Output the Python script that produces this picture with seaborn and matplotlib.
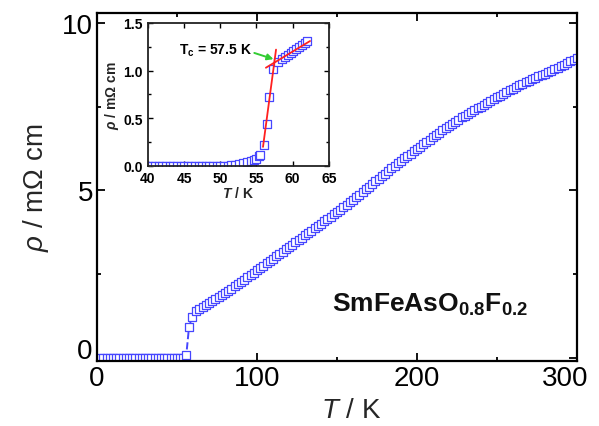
import matplotlib
matplotlib.use('Agg')
import matplotlib.pyplot as plt
import matplotlib.transforms as mtrans
from matplotlib.ticker import MultipleLocator, FixedLocator, FormatStrFormatter
import seaborn as sns
import pandas as pd

# ---------------- data ----------------
T_main = [2, 4, 6, 8, 10, 12, 14, 16, 18, 20, 22, 24, 26, 28, 30, 32, 34, 36, 38, 40,
          42, 44, 46, 48, 50, 52, 54, 55.8, 57.5, 59.4,
          62, 64, 66, 68, 70, 72, 74, 76, 78, 80, 82, 84, 86, 88, 90, 92, 94, 96, 98, 100,
          102, 104, 106, 108, 110, 112, 114, 116, 118, 120, 122, 124, 126, 128, 130,
          132, 134, 136, 138, 140, 142, 144, 146, 148, 150, 152, 154, 156, 158, 160,
          162, 164, 166, 168, 170, 172, 174, 176, 178, 180, 182, 184, 186, 188, 190,
          192, 194, 196, 198, 200, 202, 204, 206, 208, 210, 212, 214, 216, 218, 220,
          222, 224, 226, 228, 230, 232, 234, 236, 238, 240, 242, 244, 246, 248, 250,
          252, 254, 256, 258, 260, 262, 264, 266, 268, 270, 272, 274, 276, 278, 280,
          282, 284, 286, 288, 290, 292, 294, 296, 298, 300]
rho_main = [0.0] * 27 + [0.08, 0.91, 1.21,
            1.40, 1.46, 1.52, 1.58, 1.64, 1.70, 1.76, 1.82, 1.88, 1.94, 2.00, 2.06, 2.13, 2.19, 2.26,
            2.33, 2.40, 2.47, 2.54, 2.61,
            2.68, 2.75, 2.82, 2.89, 2.96, 3.03, 3.10, 3.17, 3.24, 3.31, 3.38, 3.45, 3.52, 3.59, 3.66,
            3.73, 3.80, 3.87, 3.94, 4.01, 4.08, 4.15, 4.22, 4.29, 4.36, 4.43, 4.50, 4.57, 4.64, 4.71,
            4.79, 4.87, 4.95, 5.03, 5.11, 5.19, 5.27, 5.35, 5.43, 5.50, 5.58, 5.66, 5.74, 5.82, 5.89,
            5.96, 6.03, 6.10, 6.17, 6.24, 6.31, 6.38, 6.45, 6.52, 6.59, 6.66, 6.73, 6.80, 6.87, 6.94,
            7.00, 7.06, 7.12, 7.18, 7.23, 7.29, 7.34, 7.40, 7.45, 7.50, 7.56, 7.61, 7.67, 7.72, 7.78,
            7.83, 7.89, 7.94, 7.99, 8.04, 8.09, 8.14, 8.18, 8.23, 8.27, 8.32, 8.36, 8.41, 8.45, 8.49,
            8.54, 8.58, 8.62, 8.67, 8.71, 8.76, 8.81, 8.86, 8.91, 8.96]

T_inset = [40.0, 40.5, 41.0, 41.5, 42.0, 42.5, 43.0, 43.5, 44.0, 44.5, 45.0, 45.5, 46.0,
           46.5, 47.0, 47.5, 48.0, 48.5, 49.0, 49.5, 50.0, 50.5, 51.0, 51.5, 52.0, 52.6,
           53.2, 53.7, 54.2, 54.6, 54.9, 55.3, 55.5, 56.0, 56.4, 56.75, 57.3, 58.0, 58.5,
           58.9, 59.3, 59.7, 60.1, 60.5, 60.9, 61.3, 61.7, 62.0]
rho_inset = [0.0] * 23 + [0.005, 0.01, 0.02, 0.03, 0.04, 0.05, 0.06, 0.075, 0.10, 0.12,
             0.22, 0.44, 0.72, 1.02, 1.09, 1.12, 1.14, 1.16, 1.18, 1.21, 1.23, 1.25, 1.27,
             1.29, 1.31]

fit_steep_T = [55.9, 57.7]
fit_steep_rho = [0.20, 1.22]
fit_normal_T = [56.3, 62.4]
fit_normal_rho = [1.03, 1.31]
Tc_point = (57.35, 1.12)

main_xticks = [0, 100, 200, 300]
main_yticks = [0, 5, 10]
inset_xticks = [40, 45, 50, 55, 60, 65]
inset_yticks = [0.0, 0.5, 1.0, 1.5]

BLUE = '#4646ff'
RED = '#ff2020'
GREEN = '#33cc33'

df_main = pd.DataFrame({'T': T_main, 'rho': rho_main})
df_inset = pd.DataFrame({'T': T_inset, 'rho': rho_inset})

# ---------------- style ----------------
sns.set_theme(style='ticks')
plt.rcParams['font.family'] = ['Liberation Sans', 'DejaVu Sans']
plt.rcParams['mathtext.fontset'] = 'custom'
plt.rcParams['mathtext.rm'] = 'Liberation Sans'
plt.rcParams['mathtext.it'] = 'Liberation Sans:italic'
plt.rcParams['mathtext.bf'] = 'Liberation Sans:bold'
plt.rcParams['mathtext.bfit'] = 'Liberation Sans:bold:italic'

fig = plt.figure(figsize=(5.99, 4.27), dpi=100)
fig.patch.set_facecolor('white')

# ---------------- main axes ----------------
ax = fig.add_axes([0.162, 0.152, 0.801, 0.815])
sns.lineplot(data=df_main, x='T', y='rho', ax=ax, color=BLUE, lw=1.4,
             linestyle='--', sort=False, estimator=None, zorder=1)
sns.scatterplot(data=df_main, x='T', y='rho', ax=ax, marker='s', s=36,
                color='white', edgecolor=BLUE, linewidth=0.9, zorder=2, clip_on=True)
ax.set_xlim(0, 300)
ax.set_ylim(-0.1, 10.3)
ax.xaxis.set_major_locator(FixedLocator(main_xticks))
ax.yaxis.set_major_locator(FixedLocator(main_yticks))
ax.xaxis.set_minor_locator(MultipleLocator(50))
ax.yaxis.set_minor_locator(MultipleLocator(2.5))
ax.tick_params(which='both', direction='in', top=True, right=True, color='black',
               width=1.3, labelsize=20, labelcolor='black')
ax.tick_params(which='major', length=6, pad=3)
ax.tick_params(which='minor', length=3)
for sp in ax.spines.values():
    sp.set_linewidth(1.6)
    sp.set_color('black')
ax.set_xlabel(r'$T$ / K', fontsize=20, labelpad=4)
ax.set_ylabel(r'$\rho$ / m$\Omega$ cm', fontsize=20, labelpad=8)
ax.xaxis.label.set_position((0.53, 0))
ax.text(147, 1.40, r'$\mathbf{SmFeAsO_{0.8}F_{0.2}}$', fontsize=19, color='#111111')

# shift first y label and last x label as in reference
ax.yaxis.get_major_ticks()[0].label1.set_verticalalignment('baseline')
lab = ax.xaxis.get_major_ticks()[-1].label1
lab.set_transform(lab.get_transform() + mtrans.ScaledTranslation(-0.12, 0, fig.dpi_scale_trans))

# ---------------- inset ----------------
axin = fig.add_axes([0.247, 0.609, 0.302, 0.335])
axin.set_facecolor('white')
sns.scatterplot(data=df_inset, x='T', y='rho', ax=axin, marker='s', s=28,
                color='white', edgecolor=BLUE, linewidth=0.9, zorder=2)
sns.lineplot(x=fit_steep_T, y=fit_steep_rho, ax=axin, color=RED, lw=1.3, zorder=3)
sns.lineplot(x=fit_normal_T, y=fit_normal_rho, ax=axin, color=RED, lw=1.3, zorder=3)
axin.set_xlim(40, 65)
axin.set_ylim(0, 1.5)
axin.xaxis.set_major_locator(FixedLocator(inset_xticks))
axin.yaxis.set_major_locator(FixedLocator(inset_yticks))
axin.yaxis.set_minor_locator(MultipleLocator(0.25))
axin.yaxis.set_major_formatter(FormatStrFormatter('%.1f'))
axin.tick_params(which='both', direction='in', top=True, right=True, color='black',
                 width=1.0, labelsize=10, labelcolor='black')
axin.tick_params(axis='x', which='major', pad=3.5)
axin.tick_params(axis='y', which='major', pad=3.5)
axin.tick_params(which='major', length=3.5)
axin.tick_params(which='minor', length=2)
for t in axin.get_xticklabels() + axin.get_yticklabels():
    t.set_fontweight('bold')
for sp in axin.spines.values():
    sp.set_linewidth(1.3)
    sp.set_color('#222222')
axin.set_xlabel(r'$\mathbfit{T}$ / K', fontsize=10, fontweight='bold', labelpad=0)
axin.set_ylabel(r'$\mathbfit{\rho}$ / m$\mathbf{\Omega}$ cm', fontsize=10,
                fontweight='bold', labelpad=2)
axin.text(44.3, 1.22, r'$\mathbf{T_c}$ = 57.5 K', fontsize=10, fontweight='bold',
          va='center', color='black')
axin.annotate('', xy=Tc_point, xytext=(54.7, 1.185),
              arrowprops=dict(arrowstyle='-|>', color=GREEN, lw=1.4, mutation_scale=9,
                              shrinkA=0, shrinkB=0))

fig.savefig('out.png', dpi=100, facecolor='white')
